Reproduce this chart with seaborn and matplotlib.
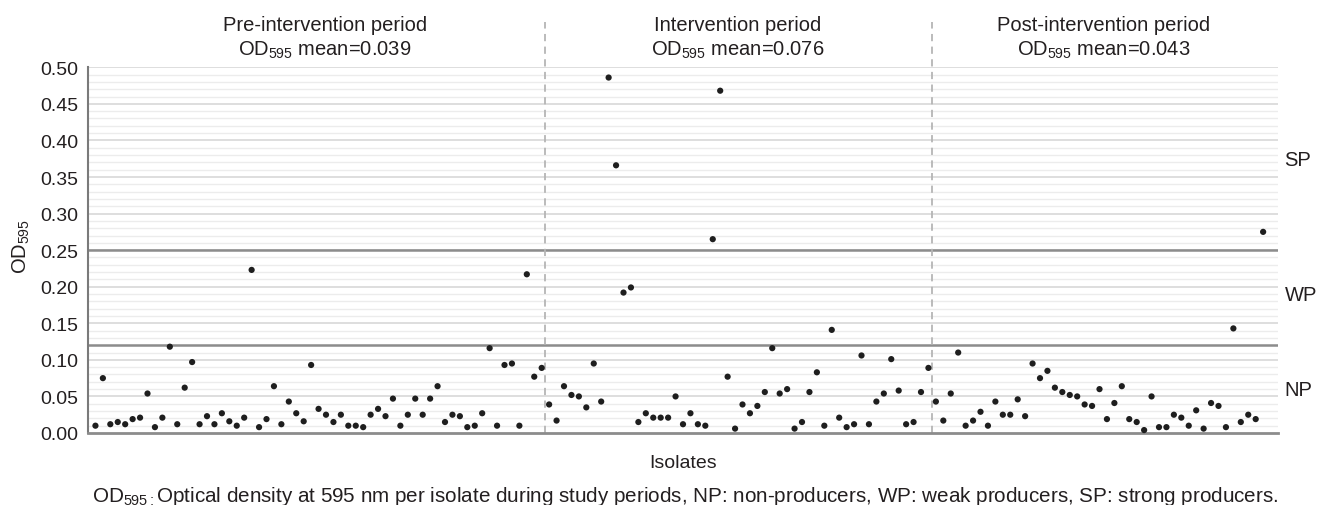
import numpy as np
import pandas as pd
import matplotlib
matplotlib.use("Agg")
import matplotlib.pyplot as plt
import seaborn as sns

# ---- data ----
pre_values = [0.010, 0.075, 0.012, 0.015, 0.012, 0.019, 0.021, 0.054, 0.008, 0.021,
              0.118, 0.012, 0.062, 0.097, 0.012, 0.023, 0.012, 0.027, 0.016, 0.010,
              0.021, 0.223, 0.008, 0.019, 0.064, 0.012, 0.043, 0.027, 0.016, 0.093,
              0.033, 0.025, 0.015, 0.025, 0.010, 0.010, 0.008, 0.025, 0.033, 0.023,
              0.047, 0.010, 0.025, 0.047, 0.025, 0.047, 0.064, 0.015, 0.025, 0.023,
              0.008, 0.010, 0.027, 0.116, 0.010, 0.093, 0.095, 0.010, 0.217, 0.077,
              0.089]
intervention_values = [0.039, 0.017, 0.064, 0.052, 0.050, 0.035, 0.095, 0.043, 0.486, 0.366,
                       0.192, 0.199, 0.015, 0.027, 0.021, 0.021, 0.021, 0.050, 0.012, 0.027,
                       0.012, 0.010, 0.265, 0.468, 0.077, 0.006, 0.039, 0.027, 0.037, 0.056,
                       0.116, 0.054, 0.060, 0.006, 0.015, 0.056, 0.083, 0.010, 0.141, 0.021,
                       0.008, 0.012, 0.106, 0.012, 0.043, 0.054, 0.101, 0.058, 0.012, 0.015,
                       0.056, 0.089]
post_values = [0.043, 0.017, 0.054, 0.110, 0.010, 0.017, 0.029, 0.010, 0.043, 0.025,
               0.025, 0.046, 0.023, 0.095, 0.075, 0.085, 0.062, 0.056, 0.052, 0.050,
               0.039, 0.037, 0.060, 0.019, 0.041, 0.064, 0.019, 0.015, 0.004, 0.050,
               0.008, 0.008, 0.025, 0.021, 0.010, 0.031, 0.006, 0.041, 0.037, 0.008,
               0.143, 0.015, 0.025, 0.019, 0.275]
period_titles = ["Pre-intervention period", "Intervention period", "Post-intervention period"]
period_means = ["0.039", "0.076", "0.043"]
thresholds = [0.12, 0.25]
class_labels = ["NP", "WP", "SP"]
y_ticks = [0.00, 0.05, 0.10, 0.15, 0.20, 0.25, 0.30, 0.35, 0.40, 0.45, 0.50]

sns.set_style("white")
plt.rcParams['font.family'] = ['Liberation Sans', 'DejaVu Sans']
plt.rcParams['mathtext.fontset'] = 'custom'
plt.rcParams['mathtext.rm'] = 'Liberation Sans'
plt.rcParams['mathtext.it'] = 'Liberation Sans:italic'
plt.rcParams['mathtext.bf'] = 'Liberation Sans:bold'

values = pre_values + intervention_values + post_values
periods = (["pre"] * len(pre_values) + ["int"] * len(intervention_values)
           + ["post"] * len(post_values))
df = pd.DataFrame({"idx": np.arange(len(values)), "od": values, "period": periods})

fig = plt.figure(figsize=(13.29, 5.06), dpi=100)
ax = fig.add_axes([88 / 1329, 1 - 434 / 506, (1278 - 88) / 1329, (434 - 68.3) / 506])

text_color = "#231f20"

# gridlines
for v in np.arange(0.01, 0.501, 0.01):
    major = abs(round(v * 100) % 5) == 0
    ax.axhline(v, color="#dedede" if major else "#ececec",
               lw=1.4 if major else 1.0, zorder=0)

# thresholds
for t in thresholds:
    ax.axhline(t, color="#8c8c8c", lw=1.8, zorder=1)

# period separators
b1 = len(pre_values) - 0.5
b2 = len(pre_values) + len(intervention_values) - 0.5
for b in (b1, b2):
    ax.axvline(b, ymin=0, ymax=1.124, color="#b5b5b5", lw=1.3,
               ls=(0, (4, 3)), clip_on=False, zorder=1)

sns.scatterplot(data=df, x="idx", y="od", ax=ax, color="#1e1e1e",
                s=20, edgecolor="none", legend=False, zorder=3)
for c in ax.collections:
    c.set_clip_on(False)

ax.set_xlim(-1, len(values) + 1)
ax.set_ylim(0, 0.5)
ax.set_yticks(y_ticks)
ax.set_yticklabels([f"{v:.2f}" for v in y_ticks], fontsize=14, color=text_color)
ax.set_xticks([])
ax.tick_params(axis="y", length=0, pad=7)

for s in ["top", "right"]:
    ax.spines[s].set_visible(False)
ax.spines["left"].set_color("#7a7a7a")
ax.spines["left"].set_linewidth(1.5)
ax.spines["bottom"].set_color("#8c8c8c")
ax.spines["bottom"].set_linewidth(2.0)

ax.set_xlabel("")
ax.set_ylabel("")

# period titles
title_x = [324.7 / 1329, 738 / 1329, 1104 / 1329]
for tx, title, m in zip(title_x, period_titles, period_means):
    fig.text(tx, 1 - 30.7 / 506, title, ha="center", va="baseline",
             fontsize=14.5, color=text_color)
    fig.text(tx, 1 - 56 / 506, r"OD$_{595}$ mean=" + m, ha="center", va="baseline",
             fontsize=14.5, color=text_color)

# class labels on right
class_y = [0.060, 0.190, 0.3746]
for lab, yy in zip(class_labels, class_y):
    ax.text(1.0055, yy, lab, transform=ax.get_yaxis_transform(), ha="left",
            va="center", fontsize=14.5, color=text_color)

# axis labels
fig.text(21 / 1329, 1 - 246 / 506, r"OD$_{595}$", rotation=90, ha="center",
         va="center", fontsize=14.5, color=text_color)
fig.text(683 / 1329, 1 - 464 / 506, "Isolates", ha="center", va="center",
         fontsize=14, color=text_color)

fig.text(685.5 / 1329, 1 - 502 / 506,
         r"OD$_{595:}$Optical density at 595 nm per isolate during study periods, "
         "NP: non-producers, WP: weak producers, SP: strong producers.",
         ha="center", va="baseline", fontsize=14.9, color=text_color)

fig.savefig("out.png", dpi=100)
